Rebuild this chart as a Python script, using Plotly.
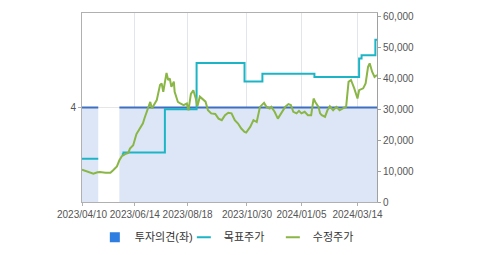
import plotly.graph_objects as go

# 투자의견 (left axis)
opinion_dates = ["2023-04-10", "2023-04-30", "2023-05-01", "2023-05-26", "2024-04-07"]
opinion_values = [4, 4, None, 4, 4]

# 목표주가 (step line)
target_dates = ["2023-04-10", "2023-04-30", "2023-05-01", "2023-05-29", "2023-05-31",
                "2023-07-21", "2023-08-29", "2023-10-27", "2023-11-18", "2024-01-21",
                "2024-03-16", "2024-03-19", "2024-04-05", "2024-04-07"]
target_values = [14000, 14000, None, 15500, 16000,
                 30000, 45000, 39000, 41500, 40500,
                 46500, 47500, 52500, 52500]

# 수정주가
price_dates = [
    "2023-04-10", "2023-04-16", "2023-04-20", "2023-04-24", "2023-04-29", "2023-05-02",
    "2023-05-09", "2023-05-15", "2023-05-18", "2023-05-23", "2023-05-26", "2023-05-29",
    "2023-06-02", "2023-06-06", "2023-06-08", "2023-06-12", "2023-06-16", "2023-06-20",
    "2023-06-24", "2023-06-26", "2023-07-01", "2023-07-03", "2023-07-05", "2023-07-08",
    "2023-07-11", "2023-07-15", "2023-07-17", "2023-07-19", "2023-07-21", "2023-07-23",
    "2023-07-25", "2023-07-27", "2023-07-29", "2023-08-01", "2023-08-02", "2023-08-06",
    "2023-08-09", "2023-08-13", "2023-08-17", "2023-08-19", "2023-08-22", "2023-08-25",
    "2023-08-28", "2023-08-30", "2023-09-02", "2023-09-06", "2023-09-09", "2023-09-12",
    "2023-09-16", "2023-09-21", "2023-09-25", "2023-09-29", "2023-10-03", "2023-10-07",
    "2023-10-11", "2023-10-15", "2023-10-19", "2023-10-23", "2023-10-27", "2023-10-29",
    "2023-11-03", "2023-11-07", "2023-11-11", "2023-11-15", "2023-11-17", "2023-11-20",
    "2023-11-23", "2023-11-27", "2023-11-29", "2023-12-03", "2023-12-07", "2023-12-12",
    "2023-12-16", "2023-12-20", "2023-12-23", "2023-12-26", "2023-12-30", "2024-01-02",
    "2024-01-05", "2024-01-09", "2024-01-13", "2024-01-17", "2024-01-20", "2024-01-22",
    "2024-01-26", "2024-01-28", "2024-01-30", "2024-02-03", "2024-02-06", "2024-02-09",
    "2024-02-13", "2024-02-17", "2024-02-21", "2024-02-25", "2024-02-29", "2024-03-03",
    "2024-03-06", "2024-03-10", "2024-03-14", "2024-03-16", "2024-03-21", "2024-03-24",
    "2024-03-27", "2024-03-29", "2024-04-01", "2024-04-04", "2024-04-07",
]
price_values = [
    10500, 10000, 9500, 9200, 9600, 9700,
    9500, 9500, 10200, 11500, 13500, 14800,
    15500, 15900, 17300, 18400, 22000, 23600,
    25500, 27200, 30500, 32400, 30300, 31900,
    33000, 37900, 38400, 35700, 39500, 41800,
    39500, 40000, 37300, 39000, 35700, 32400,
    31900, 31400, 31900, 29700, 35000, 36200,
    33500, 31000, 34100, 33000, 32500, 29700,
    28700, 28500, 27000, 26500, 28100, 28900,
    28700, 26500, 25400, 23800, 22700, 22500,
    24300, 26500, 25900, 30800, 31400, 32100,
    30800, 30300, 30800, 29200, 27000, 29200,
    30800, 31700, 31400, 29200, 28700, 29500,
    28700, 29200, 28100, 28100, 33500, 32400,
    30800, 28700, 28100, 27600, 29700, 31000,
    29700, 30800, 29700, 30300, 30800, 38900,
    39500, 36800, 33500, 36200, 36800, 38400,
    43800, 44900, 42200, 40500, 41100,
]

tick_dates = ["2023-04-10", "2023-06-14", "2023-08-18", "2023-10-30", "2024-01-05", "2024-03-14"]
tick_labels = ["2023/04/10", "2023/06/14", "2023/08/18", "2023/10/30", "2024/01/05", "2024/03/14"]
price_ticks = [0, 10000, 20000, 30000, 40000, 50000, 60000]

C_FILL = "#dce6f6"
C_OPIN = "#3f6fc1"
C_TARGET = "#1db5c6"
C_PRICE = "#8ab646"
C_LEG = "#2e7de1"
FONT = "Liberation Sans, Noto Sans CJK KR, sans-serif"

fig = go.Figure()

# split opinion series into continuous segments so the fill breaks at gaps
segments = []
cur_x, cur_y = [], []
for d, v in zip(opinion_dates, opinion_values):
    if v is None:
        if cur_x:
            segments.append((cur_x, cur_y))
        cur_x, cur_y = [], []
    else:
        cur_x.append(d)
        cur_y.append(v)
if cur_x:
    segments.append((cur_x, cur_y))

for sx, sy in segments:
    fig.add_trace(go.Scatter(
        x=sx, y=sy, mode="lines", fill="tozeroy",
        fillcolor=C_FILL, line=dict(color=C_OPIN, width=2),
        showlegend=False, yaxis="y", hoverinfo="skip"))

fig.add_trace(go.Scatter(
    x=target_dates, y=target_values, mode="lines", line=dict(color=C_TARGET, width=2, shape="hv"),
    connectgaps=False, showlegend=False, yaxis="y2"))

fig.add_trace(go.Scatter(
    x=price_dates, y=price_values, mode="lines", line=dict(color=C_PRICE, width=2),
    showlegend=False, yaxis="y2"))

# legend entries
fig.add_trace(go.Scatter(x=[None], y=[None], mode="markers", name="투자의견(좌)",
                         marker=dict(symbol="square", size=10, color=C_LEG), yaxis="y"))
fig.add_trace(go.Scatter(x=[None], y=[None], mode="markers", name="목표주가",
                         marker=dict(symbol="line-ew-open", size=10, color=C_TARGET,
                                     line=dict(color=C_TARGET, width=2)), yaxis="y2"))
fig.add_trace(go.Scatter(x=[None], y=[None], mode="markers", name="수정주가",
                         marker=dict(symbol="line-ew-open", size=10, color=C_PRICE,
                                     line=dict(color=C_PRICE, width=2)), yaxis="y2"))

fig.update_layout(
    width=479, height=255,
    margin=dict(l=82, r=102, t=13, b=53, autoexpand=False),
    paper_bgcolor="white", plot_bgcolor="white",
    font=dict(family=FONT, size=10, color="#555"),
    showlegend=True,
    legend=dict(orientation="h", xref="container", yref="container",
                x=0.198, y=0.07, xanchor="left", yanchor="middle",
                font=dict(size=11, color="#333"), itemwidth=30,
                entrywidth=44, entrywidthmode="pixels", bgcolor="rgba(0,0,0,0)"),
    xaxis=dict(type="date", range=["2023-04-10", "2024-04-07"],
               tickvals=tick_dates, ticktext=tick_labels, automargin=False,
               showgrid=True, gridcolor="#e2e5ea", gridwidth=1,
               showline=True, linecolor="#b0b0b0", mirror=True,
               ticks="outside", ticklen=3, tickcolor="#b0b0b0",
               zeroline=False, tickfont=dict(size=10, color="#555")),
    yaxis=dict(range=[0, 8], tickvals=[4], ticktext=["4"], automargin=False,
               showgrid=True, gridcolor="#e6e6e6",
               showline=True, linecolor="#b0b0b0",
               ticks="outside", ticklen=3, tickcolor="#b0b0b0",
               zeroline=False, tickfont=dict(size=10, color="#555")),
    yaxis2=dict(range=[0, 61200], overlaying="y", side="right", automargin=False,
                tickvals=price_ticks, tickformat=",",
                showgrid=False, showline=True, linecolor="#a0a0a0",
                ticks="outside", ticklen=3, tickcolor="#a0a0a0",
                zeroline=False, tickfont=dict(size=10, color="#555")),
)

fig.write_html("out.html")
